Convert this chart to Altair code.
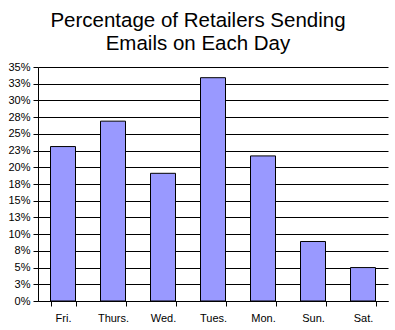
import altair as alt
import pandas as pd

days = ["Fri.", "Thurs.", "Wed.", "Tues.", "Mon.", "Sun.", "Sat."]
pct = [23.1, 26.9, 19.1, 33.4, 21.7, 8.9, 5.0]
y_ticks = [0, 2.5, 5, 7.5, 10, 12.5, 15, 17.5, 20, 22.5, 25, 27.5, 30, 32.5, 35]
y_labels = ["0%", "3%", "5%", "8%", "10%", "13%", "15%", "18%", "20%", "23%",
            "25%", "28%", "30%", "33%", "35%"]
title_lines = ["Percentage of Retailers Sending", "Emails on Each Day"]

df = pd.DataFrame({"day": days, "pct": pct})

label_expr = ("[" + ",".join(f"'{l}'" for l in y_labels) + "][indexof(["
              + ",".join(str(t) for t in y_ticks) + "], datum.value)]")

FONT = "Liberation Sans"

chart = alt.Chart(df).mark_bar(
    color="#9999FF", stroke="black", strokeWidth=1
).encode(
    x=alt.X("day:N", sort=days, title=None,
            scale=alt.Scale(paddingInner=0.5, paddingOuter=0.25),
            axis=alt.Axis(labelAngle=0, tickBand="extent", tickSize=5,
                          labelPadding=6, labelFont=FONT, labelFontSize=11,
                          labelColor="black", domainColor="black",
                          tickColor="black", grid=False)),
    y=alt.Y("pct:Q", title=None,
            scale=alt.Scale(domain=[0, 35], nice=False, zero=True),
            axis=alt.Axis(values=y_ticks, labelExpr=label_expr, tickSize=5,
                          labelPadding=3, labelFont=FONT, labelFontSize=11,
                          labelColor="black", domainColor="black",
                          tickColor="black", grid=True, gridColor="black",
                          gridOpacity=1, gridWidth=1)),
).properties(
    width=350, height=234,
    title=alt.TitleParams(title_lines, font=FONT, fontSize=20.5,
                          fontWeight="normal", color="black", anchor="middle",
                          frame="bounds", offset=7, lineHeight=22.5),
    autosize=alt.AutoSizeParams(type="none"),
    padding={"left": 38, "top": 67, "right": 7, "bottom": 29},
    background="white",
).configure_view(strokeWidth=0)

chart.save("out.html", embed_options={"renderer": "svg", "actions": False})
